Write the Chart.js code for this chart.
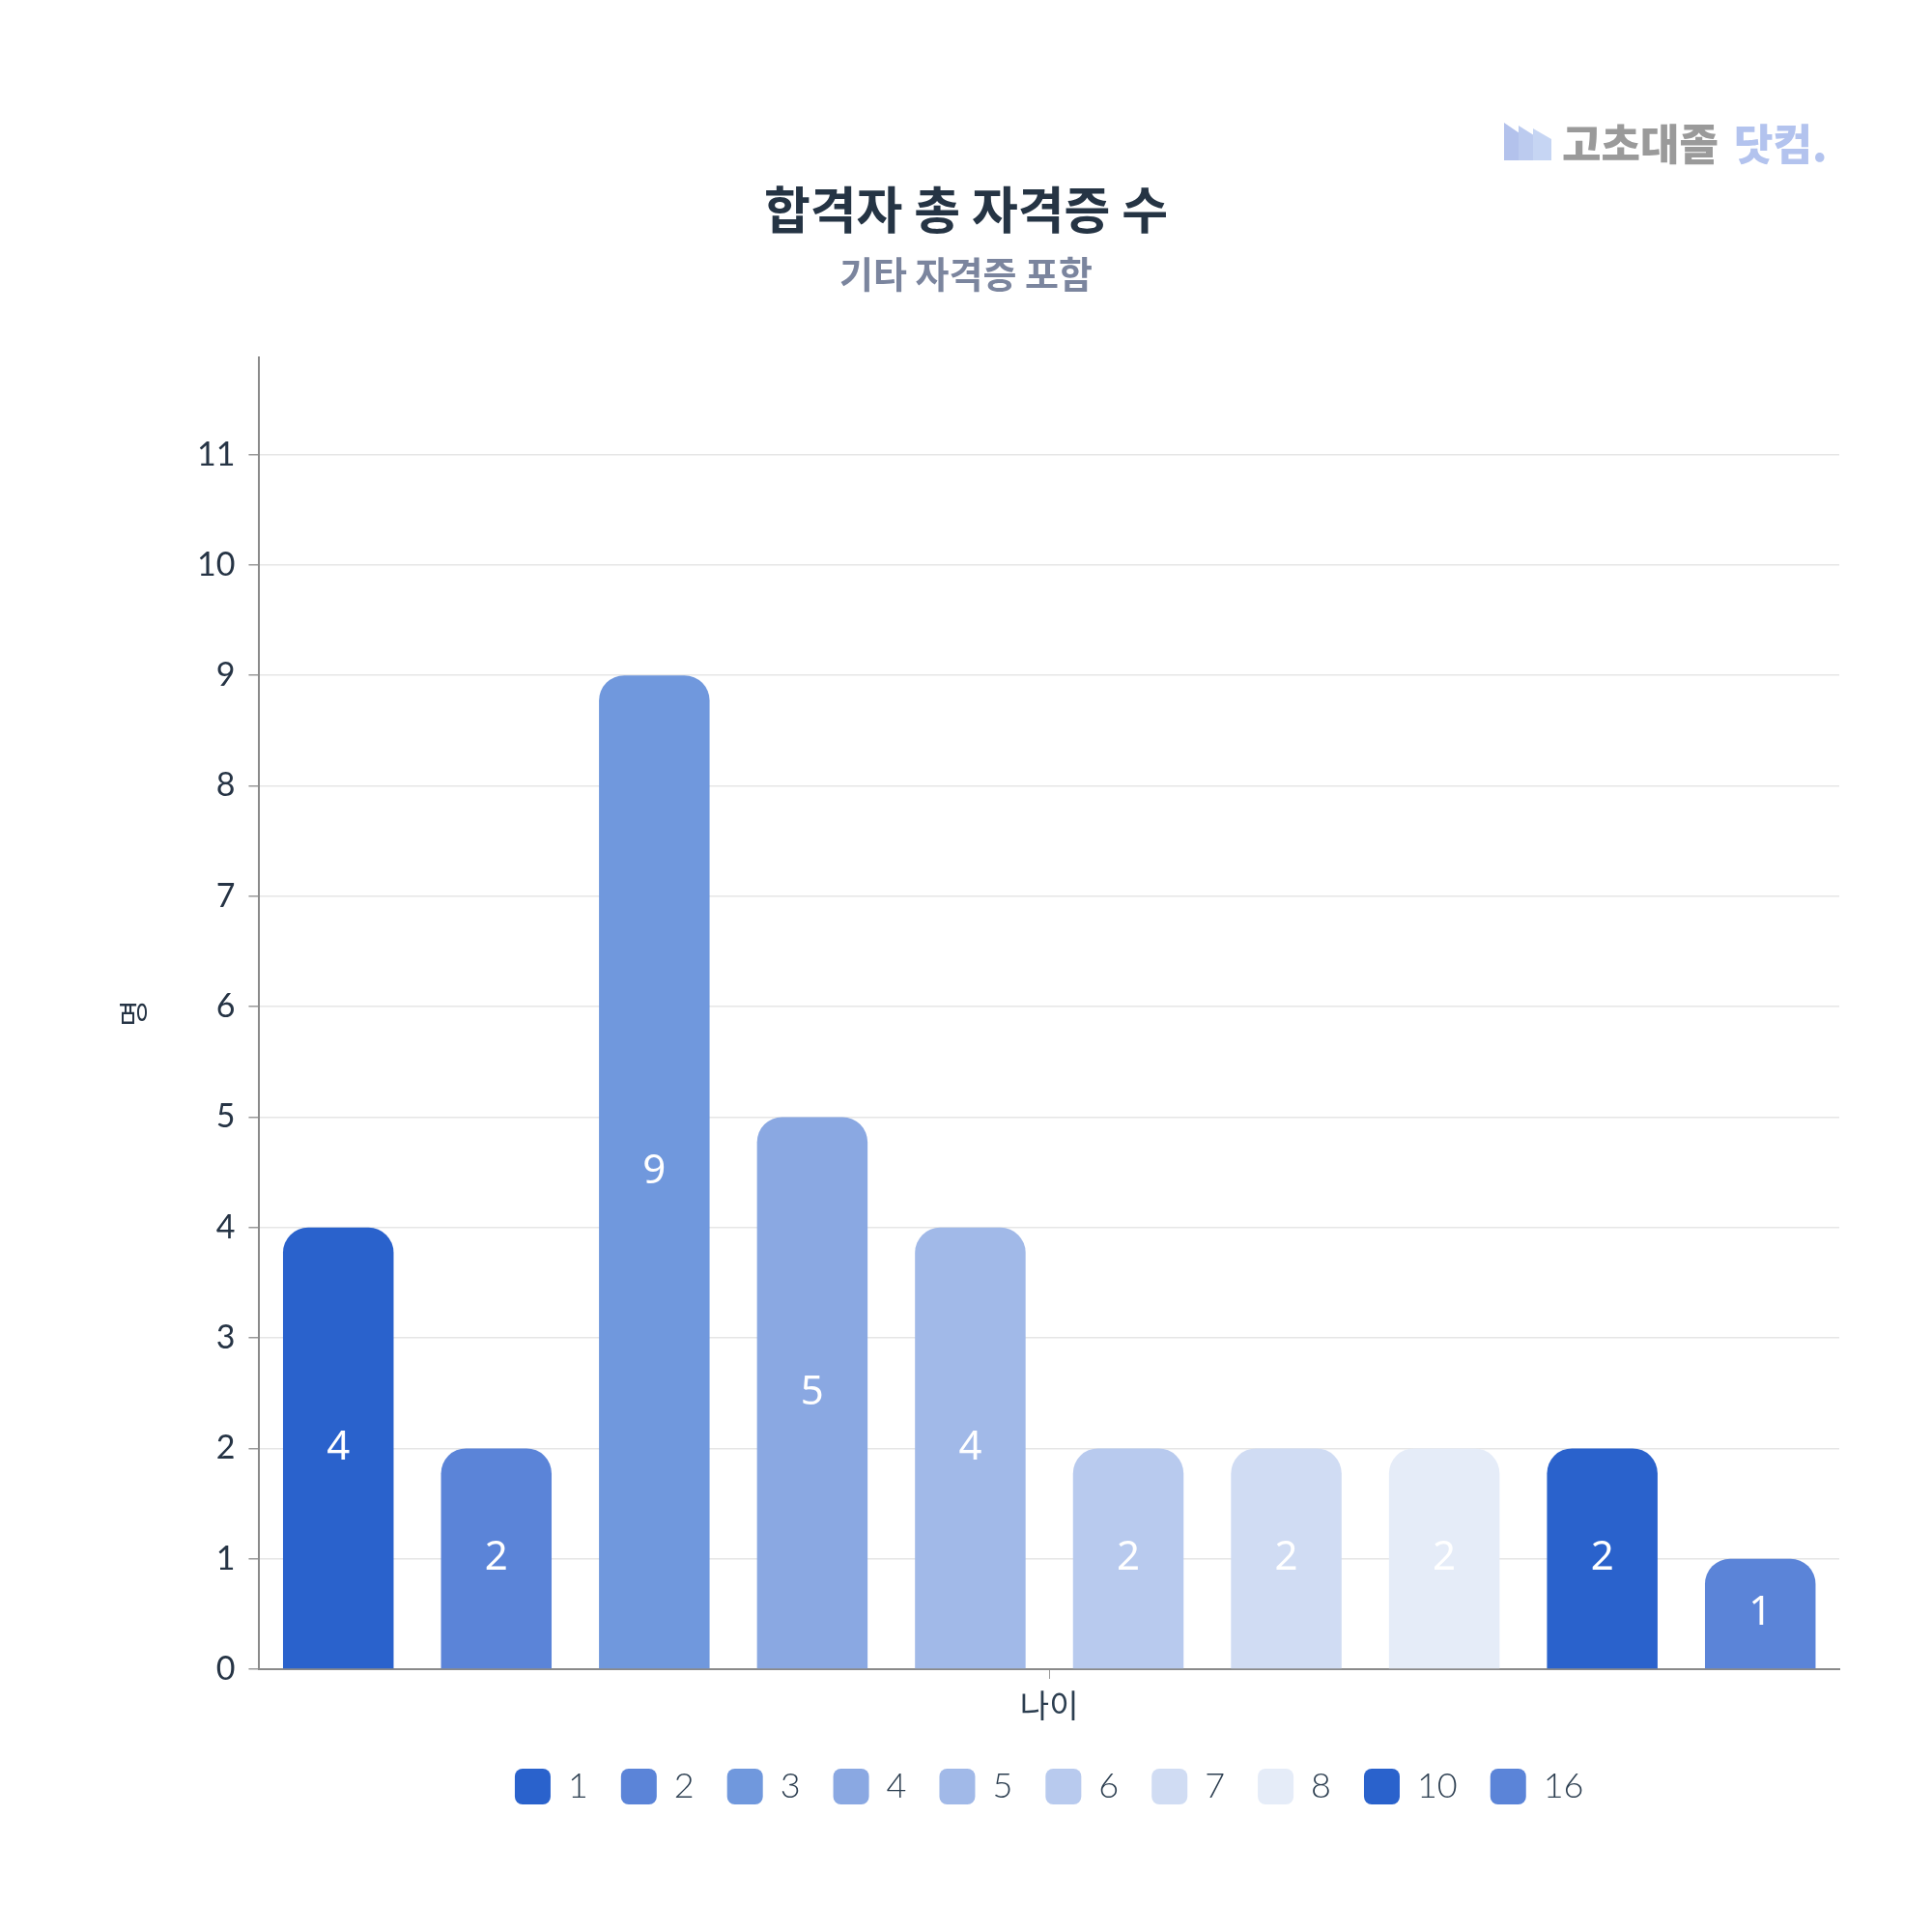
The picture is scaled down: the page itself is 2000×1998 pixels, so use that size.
<!DOCTYPE html>
<html lang="ko">
<head>
    <meta charset="UTF-8">
    <title>합격자 총 자격증 수</title>
    <script src="https://cdn.jsdelivr.net/npm/chart.js"></script>
    <style>
        html, body {
            margin: 0;
            padding: 0;
            background: #ffffff;
        }
        .chart-container {
            position: relative;
            width: 2000px;
            height: 1998px;
        }
    </style>
</head>
<body>
    <div class="chart-container">
        <canvas id="certChart"></canvas>
    </div>

    <script>
        // Data
        var categories = ['나이'];
        var seriesLabels = ['1', '2', '3', '4', '5', '6', '7', '8', '10', '16'];
        var seriesValues = [4, 2, 9, 5, 4, 2, 2, 2, 2, 1];
        var seriesColors = ['#2a62cc', '#5b84d8', '#7098dd', '#8aa8e2', '#a1b9e8',
                            '#b8caee', '#d0dcf3', '#e5ecf8', '#2a62cc', '#5b84d8'];

        var latoFont = "Lato, 'Noto Sans CJK KR', sans-serif";
        var krFont = "'Noto Sans CJK KR', 'Noto Sans', sans-serif";

        // White value labels in the middle of every bar
        var barValueLabels = {
            id: 'barValueLabels',
            afterDatasetsDraw: function (chart) {
                var ctx = chart.ctx;
                ctx.save();
                ctx.fillStyle = '#ffffff';
                ctx.font = "42px 'Noto Sans', sans-serif";
                ctx.textAlign = 'center';
                ctx.textBaseline = 'middle';
                chart.data.datasets.forEach(function (ds, i) {
                    var meta = chart.getDatasetMeta(i);
                    if (meta.hidden) return;
                    meta.data.forEach(function (bar, j) {
                        var v = ds.data[j];
                        ctx.fillText(String(v), bar.x, (bar.y + bar.base) / 2);
                    });
                });
                ctx.restore();
            }
        };

        // Site logo in the top right corner
        var siteLogo = {
            id: 'siteLogo',
            afterDraw: function (chart) {
                var ctx = chart.ctx;
                ctx.save();
                var shades = ['#b3c2ec', '#bccbef', '#c6d5f3'];
                for (var k = 0; k < 3; k++) {
                    var x0 = 1557 + k * 15;
                    ctx.fillStyle = shades[k];
                    ctx.beginPath();
                    ctx.moveTo(x0, 166);
                    ctx.lineTo(x0, 127 + k * 3);
                    ctx.lineTo(x0 + 19, 140 + k * 2);
                    ctx.lineTo(x0 + 19, 166);
                    ctx.closePath();
                    ctx.fill();
                }
                ctx.textBaseline = 'alphabetic';
                ctx.textAlign = 'left';
                ctx.font = '900 44px ' + krFont;
                ctx.fillStyle = '#9a9a9a';
                ctx.fillText('고초대졸', 1617, 166);
                var w = ctx.measureText('고초대졸').width;
                ctx.fillStyle = '#b3c3ee';
                ctx.fillText('닷컴.', 1617 + w + 16, 166);
                ctx.restore();
            }
        };

        var datasets = seriesLabels.map(function (label, i) {
            return {
                label: label,
                data: [seriesValues[i]],
                backgroundColor: seriesColors[i],
                borderRadius: 26,
                borderSkipped: 'start',
                categoryPercentage: 1.0,
                barPercentage: 0.7
            };
        });

        var ctx = document.getElementById('certChart').getContext('2d');
        var certChart = new Chart(ctx, {
            type: 'bar',
            data: {
                labels: categories,
                datasets: datasets
            },
            plugins: [barValueLabels, siteLogo],
            options: {
                responsive: true,
                maintainAspectRatio: false,
                animation: false,
                layout: {
                    padding: { top: 186, left: 96, right: 96, bottom: 120 }
                },
                plugins: {
                    title: {
                        display: true,
                        text: '합격자 총 자격증 수',
                        color: '#253444',
                        font: { family: krFont, size: 52, weight: 'bold', lineHeight: 1.2 },
                        padding: { top: 0, bottom: 6 }
                    },
                    subtitle: {
                        display: true,
                        text: '기타 자격증 포함',
                        color: '#7b859e',
                        font: { family: krFont, size: 38, weight: 'bold', lineHeight: 1.2 },
                        padding: { top: 6, bottom: 64 }
                    },
                    legend: {
                        position: 'bottom',
                        fullSize: false,
                        labels: {
                            color: '#2c3e50',
                            font: { family: latoFont, size: 36, weight: '300' },
                            boxWidth: 37,
                            boxHeight: 37,
                            useBorderRadius: true,
                            borderRadius: 8,
                            padding: 34
                        }
                    },
                    tooltip: { enabled: false }
                },
                scales: {
                    x: {
                        grid: {
                            display: true,
                            offset: false,
                            drawOnChartArea: false,
                            drawTicks: true,
                            tickLength: 10,
                            tickColor: '#999999'
                        },
                        border: { color: '#8a8a8a', width: 2 },
                        ticks: {
                            color: '#2c3e50',
                            font: { family: latoFont, size: 33, lineHeight: 1.0 },
                            padding: 13
                        }
                    },
                    y: {
                        min: 0,
                        max: 11.88,
                        afterBuildTicks: function (axis) {
                            axis.ticks = axis.ticks.filter(function (t) {
                                return Number.isInteger(t.value);
                            });
                        },
                        grid: {
                            color: '#e6e6e6',
                            lineWidth: 1.5,
                            tickLength: 11,
                            tickColor: '#999999'
                        },
                        border: { color: '#8a8a8a', width: 2 },
                        ticks: {
                            stepSize: 1,
                            color: '#263445',
                            font: { family: latoFont, size: 34 },
                            padding: 14
                        },
                        title: {
                            display: true,
                            text: '명',
                            color: '#263445',
                            font: { family: krFont, size: 30 },
                            padding: { top: 24, bottom: 34 }
                        }
                    }
                }
            }
        });
    </script>
</body>
</html>
